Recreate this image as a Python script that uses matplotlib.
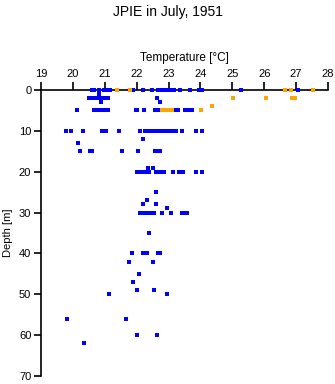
import matplotlib
matplotlib.use("Agg")
import matplotlib.pyplot as plt

plt.rcParams['font.family'] = ['Liberation Sans', 'DejaVu Sans']

# blue series: temperature (deg C) and depth (m)
blue_temp = [20.60, 20.66, 20.81, 20.97, 21.07, 21.16, 21.88, 22.20, 22.48, 22.67, 22.76,
             22.89, 22.98, 23.04, 23.17, 23.36, 23.67, 23.95, 24.05, 25.27, 27.06,
             20.83,
             20.52, 20.62, 20.75, 20.85, 20.95, 21.05, 21.10, 22.63,
             20.88, 22.73,
             20.12, 20.66, 20.78, 20.92, 21.05, 21.09, 21.98, 22.00, 22.23, 22.56, 22.62,
             22.70, 23.15, 23.24, 23.30, 23.50, 23.58, 23.66, 23.72,
             19.77, 19.93, 20.31, 20.92, 20.98, 21.04, 21.45, 22.12, 22.26, 22.34, 22.45,
             22.52, 22.60, 22.68, 22.76, 22.86, 22.94, 23.02, 23.08, 23.17, 23.24, 23.41,
             23.85, 24.04,
             22.20, 20.17,
             20.22, 20.55, 20.60, 21.53, 22.04, 22.58, 22.64, 22.72,
             22.35, 22.50,
             22.02, 22.10, 22.18, 22.26, 22.34, 22.40, 22.62, 22.70, 22.78, 22.85, 23.15,
             23.34, 23.46, 23.87, 24.04,
             22.61, 22.31, 22.21, 22.60, 22.96,
             22.10, 22.18, 22.26, 22.31, 22.44, 22.55, 22.79, 23.08, 23.42, 23.50, 23.58,
             22.39,
             21.84, 22.21, 22.33, 22.68, 22.74,
             21.77, 22.50, 22.08, 21.89, 22.02, 22.55, 21.14, 22.96,
             19.83, 21.65, 22.02, 22.63, 20.36]
blue_depth = [0] * 21 + [1] + [2] * 8 + [3] * 2 + [5] * 19 + [10] * 24 + [12, 13] \
    + [15] * 8 + [19] * 2 + [20] * 15 + [25, 27, 28, 28, 29] + [30] * 11 + [35] \
    + [40] * 5 + [42, 42, 45, 47, 49, 49, 50, 50] + [56, 56, 60, 60, 62]

# orange series
orange_temp = [21.38, 21.79, 26.65, 26.84, 27.53,
               25.03, 26.05, 26.88, 26.96,
               24.37,
               22.78, 22.85, 22.92, 22.99, 23.06, 23.12, 24.02]
orange_depth = [0] * 5 + [2] * 4 + [4] + [5] * 7

temp_ticks = list(range(19, 29))
depth_ticks = list(range(0, 80, 10))

fig = plt.figure(figsize=(3.35, 3.84), dpi=100)
ax = fig.add_axes([0.1224, 0.0208, 0.8567, 0.7448])

ax.scatter(blue_temp, blue_depth, marker='s', s=6.5, c='blue', linewidths=0,
           zorder=3, clip_on=False)
ax.scatter(orange_temp, orange_depth, marker='s', s=6.5, c='orange', linewidths=0,
           zorder=3, clip_on=False)

ax.set_xlim(19, 28)
ax.set_ylim(70, 0)
ax.set_xticks(temp_ticks)
ax.set_yticks(depth_ticks)
ax.xaxis.tick_top()
ax.xaxis.set_label_position('top')
ax.tick_params(axis='x', direction='out', length=6, width=1.2, labelsize=8, pad=2)
ax.tick_params(axis='y', direction='out', length=5, width=1.2, labelsize=8, pad=2)
ax.spines['right'].set_visible(False)
ax.spines['bottom'].set_visible(False)
ax.spines['top'].set_linewidth(1.2)
ax.spines['left'].set_linewidth(1.2)
ax.set_xlabel('Temperature [\u00b0C]', fontsize=8.5, labelpad=6)
ax.set_ylabel('Depth [m]', fontsize=8, labelpad=4)
fig.text(0.5, 0.969, 'JPIE in July, 1951', ha='center', va='center', fontsize=10)

fig.savefig('out.png', dpi=100)
